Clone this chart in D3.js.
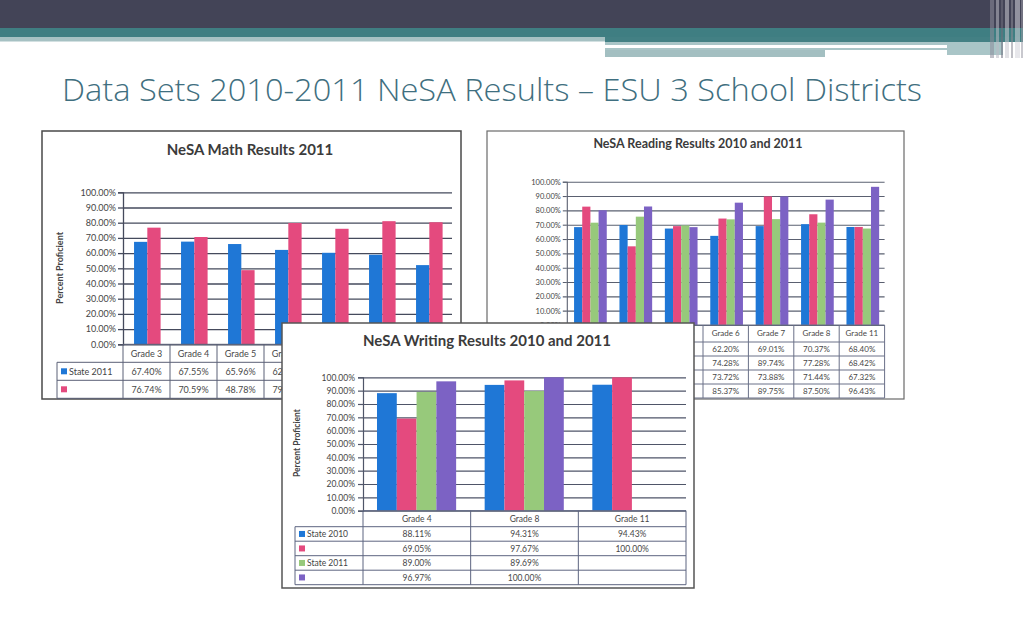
<!DOCTYPE html>
<html>
<head>
<meta charset="utf-8">
<script src="https://cdn.jsdelivr.net/npm/d3@7"></script>
<style>
  html, body { margin: 0; padding: 0; background: #fff; }
  svg { display: block; }
</style>
</head>
<body>
<svg id="slide" width="1023" height="637"></svg>
<script>
// ---------------- DATA ----------------
const slideTitle = "Data Sets 2010-2011 NeSA Results \u2013 ESU 3 School Districts";

const mathTitle = "NeSA Math Results 2011";
const mathGrades = ["Grade 3", "Grade 4", "Grade 5", "Grade 6", "Grade 7", "Grade 8", "Grade 11"];
const mathState2011 = [67.40, 67.55, 65.96, 62.10, 60.20, 58.90, 52.10];
const mathDistrict2011 = [76.74, 70.59, 48.78, 79.80, 76.00, 81.00, 80.30];
const mathLegend = ["State 2011", ""];

const readingTitle = "NeSA Reading Results 2010 and 2011";
const readingGrades = ["Grade 3", "Grade 4", "Grade 5", "Grade 6", "Grade 7", "Grade 8", "Grade 11"];
const readingState2010 = [68.30, 69.80, 67.30, 62.20, 69.01, 70.37, 68.40];
const readingDistrict2010 = [82.60, 54.90, 69.00, 74.28, 89.74, 77.28, 68.42];
const readingState2011 = [71.40, 75.60, 69.50, 73.72, 73.88, 71.44, 67.32];
const readingDistrict2011 = [80.10, 82.70, 68.30, 85.37, 89.75, 87.50, 96.43];
const readingLegend = ["State 2010", "", "State 2011", ""];

const writingTitle = "NeSA Writing Results 2010 and 2011";
const writingGrades = ["Grade 4", "Grade 8", "Grade 11"];
const writingState2010 = [88.11, 94.31, 94.43];
const writingDistrict2010 = [69.05, 97.67, 100.00];
const writingState2011 = [89.00, 89.69, null];
const writingDistrict2011 = [96.97, 100.00, null];
const writingLegend = ["State 2010", "", "State 2011", ""];

const yTicks = [0, 10, 20, 30, 40, 50, 60, 70, 80, 90, 100];
const yAxisLabel = "Percent Proficient";

// ---------------- STYLE ----------------
const COLORS = ["#1f77d6", "#e44a7e", "#97c97b", "#7c62c4"];
const chartFont = "Lato, 'Open Sans', 'DejaVu Sans', sans-serif";
const writingPanel = { x: 282, y: 323, w: 412, h: 265 };

const svg = d3.select("#slide");

// clip path: everything except the writing panel (for the charts lying beneath it)
const defs = svg.append("defs");
defs.append("clipPath").attr("id", "underClip")
  .append("path")
  .attr("clip-rule", "evenodd")
  .attr("d", `M0,0H1023V637H0Z M${writingPanel.x},${writingPanel.y}h${writingPanel.w}v${writingPanel.h}h${-writingPanel.w}Z`);

// ---------------- HEADER DECORATION ----------------
const hdr = svg.append("g");
hdr.append("rect").attr("x", 0).attr("y", 0).attr("width", 1023).attr("height", 28).attr("fill", "#434457");
hdr.append("rect").attr("x", 0).attr("y", 28).attr("width", 1023).attr("height", 9).attr("fill", "#3f7e82");
hdr.append("rect").attr("x", 0).attr("y", 37).attr("width", 605).attr("height", 4.5).attr("fill", "#a6c1c3");
hdr.append("rect").attr("x", 605).attr("y", 37).attr("width", 418).attr("height", 5).attr("fill", "#438084");
hdr.append("rect").attr("x", 605).attr("y", 42).attr("width", 398).attr("height", 8).attr("fill", "#a9c5c7");
hdr.append("rect").attr("x", 605).attr("y", 50).attr("width", 220).attr("height", 7).attr("fill", "#a3bfc1");
hdr.append("rect").attr("x", 947).attr("y", 42).attr("width", 56).attr("height", 13).attr("fill", "#a9c5c7");
hdr.append("rect").attr("x", 605).attr("y", 45).attr("width", 342).attr("height", 3).attr("fill", "#ffffff");
const stripes = [[990, 4, "#8d8d9a"], [996, 3, "#b9b9c2"], [1001, 2, "#6f6f7e"], [1005, 4, "#c9c9d0"], [1011, 2, "#8a8a96"], [1015, 5, "#d4d4da"], [1021, 2, "#9a9aa5"]];
stripes.forEach(s => {
  hdr.append("rect").attr("x", s[0]).attr("y", 0).attr("width", s[1]).attr("height", 58)
    .attr("fill", s[2]).attr("opacity", 0.55);
});

svg.append("text")
  .attr("x", 62).attr("y", 101)
  .attr("font-family", "'Open Sans', 'DejaVu Sans', sans-serif")
  .attr("font-weight", 300)
  .attr("font-size", 31)
  .attr("fill", "#3f6f80")
  .attr("textLength", 860)
  .attr("lengthAdjust", "spacingAndGlyphs")
  .text(slideTitle);

// ---------------- CHART FUNCTION ----------------
function drawChart(cfg) {
  const g = svg.append("g");
  if (cfg.under) g.attr("clip-path", "url(#underClip)");
  g.append("rect")
    .attr("x", cfg.panel.x).attr("y", cfg.panel.y)
    .attr("width", cfg.panel.w).attr("height", cfg.panel.h)
    .attr("fill", "#ffffff")
    .attr("stroke", cfg.panelStroke).attr("stroke-width", cfg.panelStrokeW);

  g.append("text")
    .attr("x", cfg.titleX).attr("y", cfg.titleY)
    .attr("text-anchor", "middle")
    .attr("font-family", chartFont).attr("font-weight", 700)
    .attr("font-size", cfg.titleSize).attr("fill", "#3b3b3b")
    .text(cfg.title);

  const y = d3.scaleLinear().domain([0, 100]).range([cfg.bottom, cfg.top]);
  const x0 = d3.scaleBand().domain(cfg.categories).range([cfg.left, cfg.right]).padding(0);
  const seriesIdx = cfg.series.map((s, i) => i);
  const x1 = d3.scaleBand().domain(seriesIdx)
    .range([x0.bandwidth() * cfg.group[0], x0.bandwidth() * cfg.group[1]]).padding(0);

  const grid = g.append("g")
    .attr("transform", `translate(${cfg.left},0)`)
    .call(d3.axisLeft(y).tickValues(yTicks).tickSize(-(cfg.right - cfg.left)).tickFormat(""));
  grid.selectAll("line").attr("stroke", cfg.gridColor).attr("stroke-width", cfg.gridW);
  grid.select(".domain").remove();

  const ax = g.append("g")
    .attr("transform", `translate(${cfg.left},0)`)
    .call(d3.axisLeft(y).tickValues(yTicks).tickSize(cfg.tickLen).tickPadding(cfg.tickPad)
      .tickFormat(d => d3.format(".2f")(d) + "%"));
  ax.select(".domain").attr("stroke", cfg.gridColor).attr("stroke-width", cfg.gridW);
  ax.selectAll("line").attr("stroke", cfg.gridColor).attr("stroke-width", cfg.gridW);
  ax.selectAll("text").attr("font-family", chartFont).attr("font-size", cfg.tickSize).attr("fill", "#454545");

  cfg.series.forEach((s, si) => {
    g.append("g").selectAll("rect")
      .data(cfg.categories.map((c, ci) => ({ c, v: s.values[ci] })).filter(d => d.v != null))
      .join("rect")
      .attr("x", d => x0(d.c) + x1(si))
      .attr("width", x1.bandwidth())
      .attr("y", d => y(d.v))
      .attr("height", d => y(0) - y(d.v))
      .attr("fill", s.color);
  });

  if (cfg.yLabel) {
    g.append("text")
      .attr("transform", `translate(${cfg.yLabel.x},${cfg.yLabel.y}) rotate(-90)`)
      .attr("text-anchor", "middle")
      .attr("font-family", chartFont).attr("font-weight", 700)
      .attr("font-size", cfg.yLabel.size).attr("fill", "#444")
      .text(yAxisLabel);
  }

  const tb = g.append("g");
  const tableTop = cfg.bottom;
  const headBottom = tableTop + cfg.headerH;
  const tableBottom = headBottom + cfg.rowH * cfg.series.length;
  const lineStyle = sel => sel.attr("stroke", cfg.tableColor).attr("stroke-width", 1).attr("fill", "none");

  tb.append("line").attr("x1", cfg.left).attr("x2", cfg.right).attr("y1", tableTop).attr("y2", tableTop).call(lineStyle);
  for (let r = 0; r <= cfg.series.length; r++) {
    const yy = headBottom + r * cfg.rowH;
    tb.append("line").attr("x1", cfg.legendLeft).attr("x2", cfg.right).attr("y1", yy).attr("y2", yy).call(lineStyle);
  }
  tb.append("line").attr("x1", cfg.legendLeft).attr("x2", cfg.legendLeft).attr("y1", headBottom).attr("y2", tableBottom).call(lineStyle);
  cfg.categories.forEach(c => {
    const xx = x0(c);
    tb.append("line").attr("x1", xx).attr("x2", xx).attr("y1", tableTop).attr("y2", tableBottom).call(lineStyle);
  });
  tb.append("line").attr("x1", cfg.right).attr("x2", cfg.right).attr("y1", tableTop).attr("y2", tableBottom).call(lineStyle);

  tb.selectAll(".hd").data(cfg.categories).join("text")
    .attr("x", d => x0(d) + x0.bandwidth() / 2)
    .attr("y", tableTop + cfg.headerH / 2 + cfg.cellSize * 0.36)
    .attr("text-anchor", "middle")
    .attr("font-family", chartFont).attr("font-size", cfg.cellSize).attr("fill", "#484848")
    .text(d => d);

  cfg.series.forEach((s, si) => {
    const ry = headBottom + si * cfg.rowH;
    const cy = ry + cfg.rowH / 2 + cfg.cellSize * 0.36;
    tb.append("rect")
      .attr("x", cfg.legendLeft + 4).attr("y", ry + cfg.rowH / 2 - 3)
      .attr("width", 6).attr("height", 6).attr("fill", s.color);
    if (s.label) {
      tb.append("text")
        .attr("x", cfg.legendLeft + 12).attr("y", cy)
        .attr("font-family", chartFont).attr("font-size", cfg.cellSize).attr("fill", "#444")
        .text(s.label);
    }
    tb.selectAll(null)
      .data(cfg.categories.map((c, ci) => ({ c, v: s.values[ci] })).filter(d => d.v != null))
      .join("text")
      .attr("x", d => x0(d.c) + x0.bandwidth() / 2)
      .attr("y", cy)
      .attr("text-anchor", "middle")
      .attr("font-family", chartFont).attr("font-size", cfg.cellSize).attr("fill", "#484848")
      .text(d => d3.format(".2f")(d.v) + "%");
  });

  // texts that are fully hidden under the writing panel are not shown in the slide
  if (cfg.under) {
    const svgBox = svg.node().getBoundingClientRect();
    g.selectAll("text").each(function () {
      const b = this.getBoundingClientRect();
      const x = b.left - svgBox.left, yy = b.top - svgBox.top;
      const inside = x >= writingPanel.x && yy >= writingPanel.y &&
        x + b.width <= writingPanel.x + writingPanel.w && yy + b.height <= writingPanel.y + writingPanel.h;
      if (inside) d3.select(this).remove();
    });
  }
}

// ---------------- MATH ----------------
drawChart({
  under: true,
  panel: { x: 42, y: 131, w: 419, h: 268 },
  panelStroke: "#4a4a4a", panelStrokeW: 1.5,
  title: mathTitle, titleX: 250, titleY: 155, titleSize: 15,
  top: 192.3, bottom: 344.3, left: 123, right: 452,
  tickLen: 5, tickPad: 2, tickSize: 9,
  gridColor: "#454a5c", gridW: 1.3,
  categories: mathGrades,
  series: [
    { label: mathLegend[0], color: COLORS[0], values: mathState2011 },
    { label: mathLegend[1], color: COLORS[1], values: mathDistrict2011 }
  ],
  group: [0.235, 0.80],
  headerH: 18, rowH: 18, legendLeft: 57, cellSize: 9, tableColor: "#5a6076",
  yLabel: { x: 63, y: 268, size: 9 }
});

// ---------------- READING ----------------
drawChart({
  under: true,
  panel: { x: 487, y: 131, w: 417, h: 268 },
  panelStroke: "#6a6a6a", panelStrokeW: 1.2,
  title: readingTitle, titleX: 698, titleY: 148, titleSize: 12.5,
  top: 181.7, bottom: 325, left: 566.8, right: 884.6,
  tickLen: 4, tickPad: 2, tickSize: 7.5,
  gridColor: "#5a6070", gridW: 1.1,
  categories: readingGrades,
  series: [
    { label: readingLegend[0], color: COLORS[0], values: readingState2010 },
    { label: readingLegend[1], color: COLORS[1], values: readingDistrict2010 },
    { label: readingLegend[2], color: COLORS[2], values: readingState2011 },
    { label: readingLegend[3], color: COLORS[3], values: readingDistrict2011 }
  ],
  group: [0.16, 0.88],
  headerH: 17, rowH: 14, legendLeft: 500, cellSize: 8, tableColor: "#6a7088",
  yLabel: null
});

// ---------------- WRITING ----------------
drawChart({
  under: false,
  panel: writingPanel,
  panelStroke: "#555555", panelStrokeW: 1.5,
  title: writingTitle, titleX: 487, titleY: 346, titleSize: 15,
  top: 377.3, bottom: 510.7, left: 363, right: 686,
  tickLen: 5, tickPad: 3, tickSize: 8.5,
  gridColor: "#4f5568", gridW: 1.2,
  categories: writingGrades,
  series: [
    { label: writingLegend[0], color: COLORS[0], values: writingState2010 },
    { label: writingLegend[1], color: COLORS[1], values: writingDistrict2010 },
    { label: writingLegend[2], color: COLORS[2], values: writingState2011 },
    { label: writingLegend[3], color: COLORS[3], values: writingDistrict2011 }
  ],
  group: [0.13, 0.865],
  headerH: 16, rowH: 14.5, legendLeft: 295, cellSize: 8.5, tableColor: "#5d6480",
  yLabel: { x: 300, y: 443, size: 8.5 }
});
</script>
</body>
</html>
